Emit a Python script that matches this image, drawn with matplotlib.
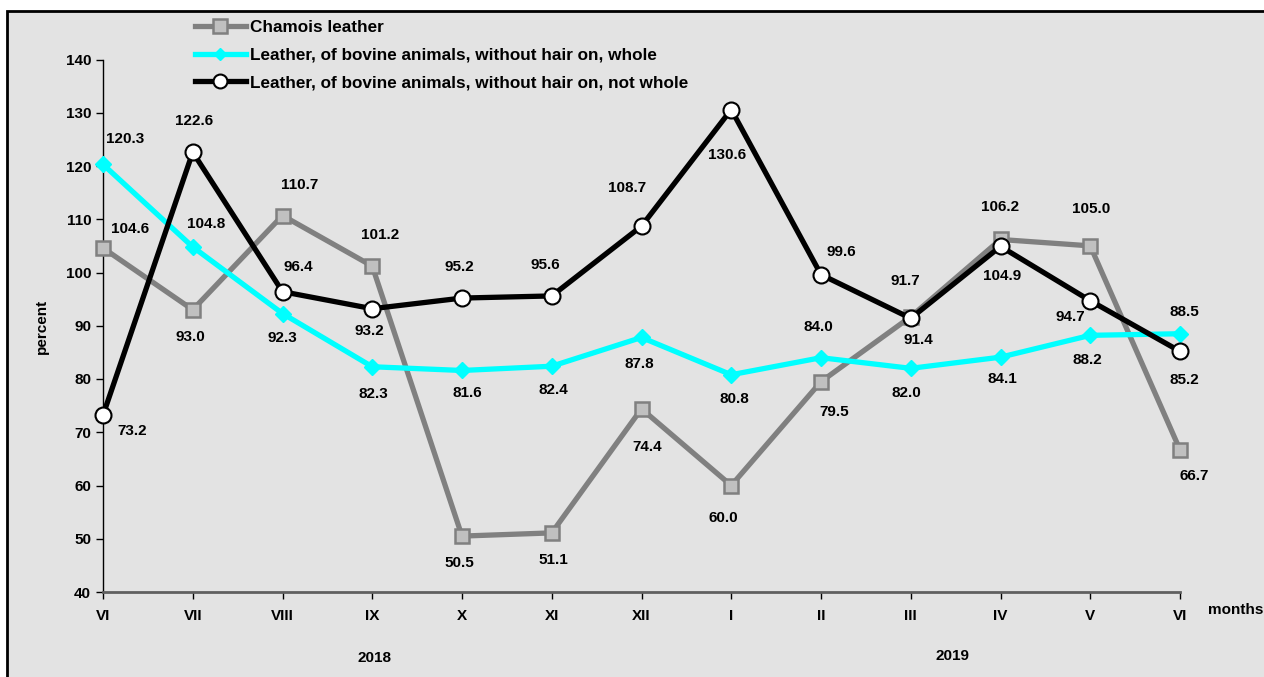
import matplotlib
matplotlib.use("Agg")
import matplotlib.pyplot as plt
from matplotlib.patches import Rectangle
from matplotlib.lines import Line2D

plt.rcParams['font.family'] = ['Liberation Sans', 'DejaVu Sans']
plt.rcParams['font.weight'] = 'bold'

months = ["VI", "VII", "VIII", "IX", "X", "XI", "XII", "I", "II", "III", "IV", "V", "VI"]
years = ["2018", "2019"]
chamois = [104.6, 93.0, 110.7, 101.2, 50.5, 51.1, 74.4, 60.0, 79.5, 91.7, 106.2, 105.0, 66.7]
bovine_whole = [120.3, 104.8, 92.3, 82.3, 81.6, 82.4, 87.8, 80.8, 84.0, 82.0, 84.1, 88.2, 88.5]
bovine_not_whole = [73.2, 122.6, 96.4, 93.2, 95.2, 95.6, 108.7, 130.6, 99.6, 91.4, 104.9, 94.7, 85.2]
series_names = ["Chamois leather",
                "Leather, of bovine animals, without hair on, whole",
                "Leather, of bovine animals, without hair on, not whole"]

# label offsets in pixels (dx right, dy down)
off_chamois = [(27, -19), (-2, 27), (17, -31), (8, -31), (-3, 27), (2, 27), (6, 38), (-8, 33),
               (13, 30), (-5, -36), (0, -32), (1, -37), (14, 26)]
off_whole = [(22, -25), (13, -23), (0, 24), (1, 27), (5, 23), (2, 24), (-2, 27), (3, 24),
             (-3, -31), (-4, 25), (2, 22), (-3, 25), (4, -22)]
off_notwhole = [(29, 16), (1, -31), (16, -25), (-3, 22), (-3, -31), (-6, -31), (-14, -38), (-4, 45),
                (20, -23), (8, 22), (2, 30), (-20, 16), (4, 29)]

W, H = 1264, 677
FS = 11
fig = plt.figure(figsize=(W / 100, H / 100), dpi=100)
fig.patch.set_facecolor("white")

# outer frame
fig.patches.append(Rectangle((7 / W, -0.05), 1.1, (H - 11) / H + 0.05, transform=fig.transFigure,
                             facecolor="#e3e3e3", edgecolor="black", linewidth=2, zorder=-10))

left, right, bottom, top = 103, 1180, 592, 59.5
ax = fig.add_axes([left / W, (H - bottom) / H, (right - left) / W, (bottom - top) / H])
ax.set_facecolor("none")
ax.set_zorder(1)
x = list(range(len(months)))

LW = 3.8
ax.plot(x, chamois, color="#808080", lw=LW, marker="s", markersize=10.5,
        markerfacecolor="#c0c0c0", markeredgecolor="#808080", markeredgewidth=1.8, zorder=3,
        clip_on=False)
ax.plot(x, bovine_whole, color="#00ffff", lw=LW, marker="D", markersize=8.5,
        markerfacecolor="#00ffff", markeredgecolor="#00ffff", zorder=4, clip_on=False)
ax.plot(x, bovine_not_whole, color="black", lw=LW, marker="o", markersize=11.5,
        markerfacecolor="white", markeredgecolor="black", markeredgewidth=1.5, zorder=5,
        clip_on=False)

for vals, offs in ((chamois, off_chamois), (bovine_whole, off_whole), (bovine_not_whole, off_notwhole)):
    for i, (v, (dx, dy)) in enumerate(zip(vals, offs)):
        ax.annotate(f"{v:.1f}", (i, v), xytext=(dx, -dy), textcoords="offset pixels",
                    ha="center", va="center", fontsize=FS, fontweight="bold", zorder=6)

ax.set_xlim(0, 12)
ax.set_ylim(40, 140)
ax.set_yticks(range(40, 141, 10))
ax.set_xticks(x)
ax.set_xticklabels(months)
ax.tick_params(axis="both", labelsize=FS, colors="black", length=5, width=1, direction="out")
ax.tick_params(axis="x", pad=7)
for s in ("top", "right"):
    ax.spines[s].set_visible(False)
ax.spines["left"].set_linewidth(1)
ax.spines["bottom"].set_color("#606060")
ax.spines["bottom"].set_linewidth(2)
for lab in ax.get_xticklabels() + ax.get_yticklabels():
    lab.set_fontweight("bold")

fig.text(42 / W, (H - 326) / H, "percent", rotation=90, ha="center", va="center",
         fontsize=FS, fontweight="bold")
fig.text(1236 / W, (H - 610) / H, "months", ha="center", va="center", fontsize=FS, fontweight="bold")
fig.text(374 / W, (H - 658) / H, years[0], ha="center", va="center", fontsize=FS, fontweight="bold")
fig.text(952 / W, (H - 656) / H, years[1], ha="center", va="center", fontsize=FS, fontweight="bold")

handles = [
    Line2D([], [], color="#808080", lw=LW, marker="s", markersize=10.5, markerfacecolor="#c0c0c0",
           markeredgecolor="#808080", markeredgewidth=1.8),
    Line2D([], [], color="#00ffff", lw=LW, marker="D", markersize=6.5, markerfacecolor="#00ffff",
           markeredgecolor="#00ffff"),
    Line2D([], [], color="black", lw=LW, marker="o", markersize=10, markerfacecolor="white",
           markeredgecolor="black", markeredgewidth=1.5),
]
leg = fig.legend(handles, series_names, loc="upper left", bbox_to_anchor=(188 / W, (H - 13) / H),
                 frameon=False, fontsize=12.3, handlelength=3.0, handletextpad=0.2,
                 labelspacing=0.75, borderaxespad=0)
for t in leg.get_texts():
    t.set_fontweight("bold")

fig.savefig("out.png", dpi=100)
